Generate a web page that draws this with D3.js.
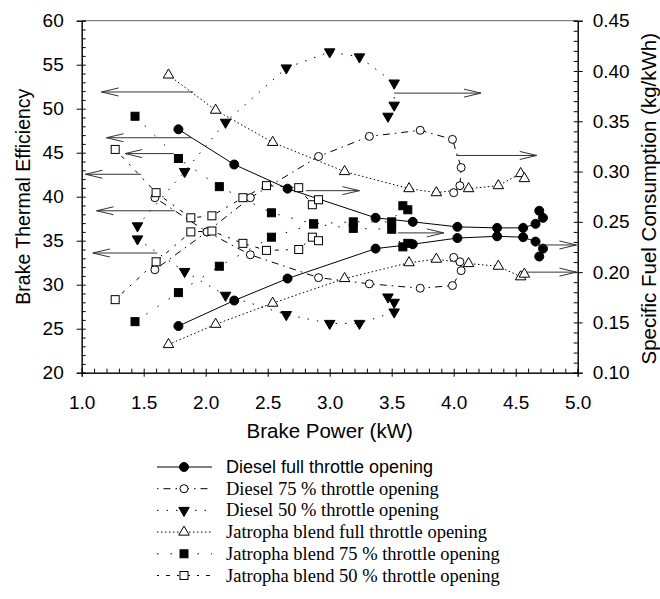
<!DOCTYPE html>
<html><head><meta charset="utf-8">
<script src="https://cdn.jsdelivr.net/npm/d3@7"></script>
<style>body{margin:0;background:#fff}svg{display:block}</style>
</head><body>
<script>
// ---- data ----
const xTicks = [1.0,1.5,2.0,2.5,3.0,3.5,4.0,4.5,5.0];
const leftTicks = [20,25,30,35,40,45,50,55,60];
const rightTicks = [0.10,0.15,0.20,0.25,0.30,0.35,0.40,0.45];

const seriesNames = ["Diesel full throttle opening","Diesel 75 % throttle opening","Diesel 50 % throttle opening",
  "Jatropha blend full throttle opening","Jatropha blend 75 % throttle opening","Jatropha blend 50 % throttle opening"];

const dieselFullX   = [1.78, 2.23, 2.66, 3.37, 3.67, 4.03, 4.35, 4.56, 4.66, 4.72, 4.69];
const dieselFullBTE = [25.3, 28.2, 30.7, 34.1, 34.6, 35.3, 35.5, 35.4, 34.9, 34.1, 33.2];
const dieselFullSFC = [0.342, 0.307, 0.283, 0.254, 0.250, 0.245, 0.244, 0.244, 0.248, 0.254, 0.261];

const diesel75X   = [1.59, 2.01, 2.36, 2.91, 3.32, 3.73, 3.99, 4.06, 4.05, 4.00];
const diesel75BTE = [31.7, 36.0, 33.4, 30.8, 30.1, 29.6, 29.9, 31.6, 32.6, 33.1];
const diesel75SFC = [0.274, 0.240, 0.274, 0.315, 0.335, 0.341, 0.332, 0.304, 0.286, 0.279];

const diesel50X   = [1.45, 1.83, 2.16, 2.65, 3.00, 3.24, 3.52, 3.52, 3.47];
const diesel50BTE = [35.2, 31.5, 28.8, 26.6, 25.6, 25.6, 26.9, 28.0, 28.6];
const diesel50SFC = [0.246, 0.300, 0.349, 0.403, 0.419, 0.414, 0.388, 0.366, 0.355];

const jatFullX   = [1.70, 2.08, 2.54, 3.12, 3.64, 3.86, 4.12, 4.36, 4.54, 4.57];
const jatFullBTE = [23.2, 25.5, 27.9, 30.7, 32.5, 32.9, 32.4, 32.1, 30.9, 31.2];
const jatFullSFC = [0.396, 0.361, 0.329, 0.300, 0.283, 0.279, 0.283, 0.286, 0.298, 0.293];

const jat75X   = [1.43, 1.78, 2.11, 2.53, 2.87, 3.19, 3.50, 3.59, 3.63];
const jat75BTE = [25.8, 29.1, 32.1, 35.4, 36.9, 36.4, 36.3, 34.3, 34.7];
const jat75SFC = [0.355, 0.313, 0.285, 0.259, 0.248, 0.250, 0.250, 0.266, 0.262];

const jat50X   = [1.27, 1.60, 1.88, 2.05, 2.30, 2.49, 2.75, 2.86, 2.91];
const jat50BTE = [28.3, 32.6, 36.0, 36.1, 34.7, 33.9, 34.0, 35.4, 35.0];
const jat50SFC = [0.322, 0.279, 0.254, 0.256, 0.274, 0.286, 0.284, 0.267, 0.272];

// arrows: left-pointing (left axis units), right-pointing (right axis units)
const leftArrowY    = [51.9, 46.7, 44.9, 42.55, 38.4, 33.6];
const leftArrowFrom = [1.90, 1.89, 1.74, 1.48, 1.75, 1.61];
const leftArrowTo   = [1.16, 1.20, 1.35, 1.03, 1.12, 1.09];
const rightArrowY    = [0.378, 0.316, 0.281, 0.239, 0.227, 0.200];
const rightArrowFrom = [3.52, 4.02, 2.81, 3.55, 4.67, 4.59];
const rightArrowTo   = [4.22, 4.67, 3.24, 3.92, 4.99, 4.99];

// ---- layout ----
const W = 660, H = 599;
const L = 81.7, R = 577.7, T = 20.7, B = 372.7;
const sans = "Arial, 'Liberation Sans', sans-serif";
const serif = "'Times New Roman', 'Liberation Serif', serif";
const svg = d3.select("body").append("svg").attr("width", W).attr("height", H);

const x = d3.scaleLinear([1,5],[L,R]);
const yL = d3.scaleLinear([20,60],[B,T]);
const yR = d3.scaleLinear([0.10,0.45],[B,T]);

const styles = [
  {sym:"circle", fill:"#000", dash:null},
  {sym:"circle", fill:"#fff", dash:"1.5,5,7,5"},
  {sym:"down", fill:"#000", dash:"1.5,8"},
  {sym:"up", fill:"#fff", dash:"1.5,2.5"},
  {sym:"square", fill:"#000", dash:"1.5,12"},
  {sym:"square", fill:"#fff", dash:"2,7,4,7"}
];

function marker(g, type, fill, cx, cy){
  let s;
  if(type==="circle") s = g.append("circle").attr("cx",cx).attr("cy",cy).attr("r", fill==="#000"?4.5:4);
  else if(type==="square") s = g.append("rect").attr("x",cx-4).attr("y",cy-4).attr("width",8).attr("height",8);
  else {
    const p = d3.symbol(d3.symbolTriangle, 48)();
    s = g.append("path").attr("d",p).attr("transform",`translate(${cx},${cy})`+(type==="down"?" rotate(180)":""));
  }
  s.attr("fill",fill).attr("stroke","#000").attr("stroke-width",1);
}

const series = [
  [dieselFullX, dieselFullBTE, dieselFullSFC],
  [diesel75X, diesel75BTE, diesel75SFC],
  [diesel50X, diesel50BTE, diesel50SFC],
  [jatFullX, jatFullBTE, jatFullSFC],
  [jat75X, jat75BTE, jat75SFC],
  [jat50X, jat50BTE, jat50SFC]
];

// axes
svg.append("line").attr("x1",L).attr("x2",R).attr("y1",T).attr("y2",T).attr("stroke","#666");
svg.append("g").attr("transform",`translate(0,${B})`)
  .call(d3.axisBottom(x).tickValues(d3.range(10,51).map(d=>d/10)).tickSize(-4).tickFormat(""));
svg.append("g").attr("transform",`translate(0,${B})`)
  .call(d3.axisBottom(x).tickValues(xTicks).tickSize(4).tickPadding(19).tickFormat(d3.format(".1f")));
svg.append("g").attr("transform",`translate(${L},0)`)
  .call(d3.axisLeft(yL).tickValues(d3.range(20,61)).tickSize(-4).tickFormat(""));
svg.append("g").attr("transform",`translate(${L},0)`)
  .call(d3.axisLeft(yL).tickValues(leftTicks).tickSize(5).tickPadding(13).tickFormat(d3.format("d")));
svg.append("g").attr("transform",`translate(${R},0)`)
  .call(d3.axisRight(yR).tickValues(d3.range(10,46).map(d=>d/100)).tickSize(-4).tickFormat(""));
svg.append("g").attr("transform",`translate(${R},0)`)
  .call(d3.axisRight(yR).tickValues(rightTicks).tickSize(5).tickPadding(10).tickFormat(d3.format(".2f")));
svg.selectAll(".domain").attr("stroke","#000");
svg.selectAll(".tick line").attr("stroke","#000");
svg.selectAll(".tick text").attr("font-family",sans).attr("font-size",19).attr("fill","#000");

// axis titles
svg.append("text").attr("x",(L+R)/2).attr("y",438).attr("text-anchor","middle")
  .attr("font-family",sans).attr("font-size",20.5).text("Brake Power (kW)");
svg.append("text").attr("transform",`translate(30,${(T+B)/2}) rotate(-90)`).attr("text-anchor","middle")
  .attr("font-family",sans).attr("font-size",19.5).text("Brake Thermal Efficiency");
svg.append("text").attr("transform",`translate(656,${(T+B)/2 + 2}) rotate(-90)`).attr("text-anchor","middle")
  .attr("font-family",sans).attr("font-size",20.5).text("Specific Fuel Consumption (kg/kWh)");

// curves
const plot = svg.append("g");
series.forEach((s,i)=>{
  const st = styles[i];
  const [xs, bte, sfc] = s;
  const lineL = d3.line().x((d,j)=>x(xs[j])).y(d=>yL(d));
  const lineR = d3.line().x((d,j)=>x(xs[j])).y(d=>yR(d));
  [[bte,lineL],[sfc,lineR]].forEach(([vals,ln])=>{
    plot.append("path").attr("d",ln(vals)).attr("fill","none").attr("stroke","#000")
      .attr("stroke-width",1).attr("stroke-dasharray",st.dash);
  });
});
series.forEach((s,i)=>{
  const st = styles[i];
  const [xs, bte, sfc] = s;
  xs.forEach((xv,j)=>{
    marker(plot, st.sym, st.fill, x(xv), yL(bte[j]));
    marker(plot, st.sym, st.fill, x(xv), yR(sfc[j]));
  });
});

// arrows
function arrow(x1,x2,yy){
  const g = svg.append("g").attr("stroke","#333").attr("stroke-width",1).attr("fill","none");
  g.append("line").attr("x1",x1).attr("x2",x2).attr("y1",yy).attr("y2",yy);
  const dir = x2 > x1 ? -1 : 1;
  g.append("path").attr("d",`M${x2+dir*17},${yy-4}L${x2},${yy}L${x2+dir*17},${yy+4}`);
}
leftArrowY.forEach((v,i)=>arrow(x(leftArrowFrom[i]), x(leftArrowTo[i]), yL(v)));
rightArrowY.forEach((v,i)=>arrow(x(rightArrowFrom[i]), x(rightArrowTo[i]), yR(v)));

// legend
const leg = svg.append("g");
seriesNames.forEach((name,i)=>{
  const yy = 467 + i*21.7;
  const st = styles[i];
  leg.append("line").attr("x1",157).attr("x2",212).attr("y1",yy).attr("y2",yy)
    .attr("stroke","#000").attr("stroke-width",1).attr("stroke-dasharray",st.dash);
  marker(leg, st.sym, st.fill, 184, yy);
  leg.append("text").attr("x",226).attr("y",yy+6)
    .attr("font-family", i===0 ? sans : serif)
    .attr("font-size", i===0 ? 18 : 18.5).text(name);
});
</script>
</body></html>
